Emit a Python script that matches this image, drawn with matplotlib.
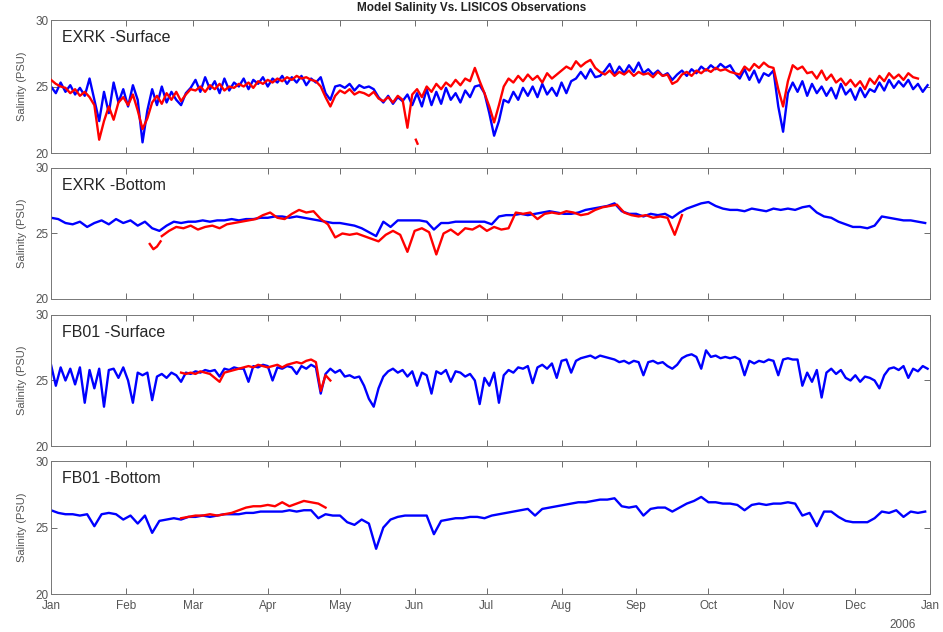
import numpy as np
import matplotlib
matplotlib.use('Agg')
import matplotlib.pyplot as plt

plt.rcParams['font.family'] = ['Liberation Sans', 'DejaVu Sans']

# month ticks (day of year 2006)
month_days = [0, 31, 59, 90, 120, 151, 181, 212, 243, 273, 304, 334, 365]
month_labels = ['Jan', 'Feb', 'Mar', 'Apr', 'May', 'Jun', 'Jul',
                'Aug', 'Sep', 'Oct', 'Nov', 'Dec', 'Jan']

titles = ['EXRK -Surface', 'EXRK -Bottom', 'FB01 -Surface', 'FB01 -Bottom']

# ---- EXRK surface: model (every 2 days) and obs (every 2 days)
b1_days = np.arange(0, 365, 2)
b1 = [25.0, 24.5, 25.3, 24.6, 25.1, 24.4, 24.9, 24.3, 25.6, 24.0,
      22.4, 24.6, 23.0, 25.3, 23.8, 24.8, 23.5, 25.1, 24.0, 20.8,
      23.2, 24.8, 23.6, 25.0, 23.8, 24.6, 24.0, 23.6, 24.5, 24.9,
      25.5, 24.6, 25.7, 24.8, 25.4, 24.5, 25.6, 24.7, 25.3, 25.0,
      25.6, 24.8, 25.5, 25.2, 25.7, 25.0, 25.6, 25.3, 25.8, 25.2,
      25.7, 25.3, 25.8, 25.1, 25.6, 25.3, 25.7, 24.5, 24.0, 25.0,
      25.1, 24.9, 25.2, 24.7, 25.1, 24.9, 25.0, 24.8, 24.2, 23.8,
      24.3, 23.7, 24.2, 23.9, 24.4, 23.6, 24.5, 23.5, 24.8, 23.6,
      24.6, 23.7, 24.9, 24.0, 24.5, 23.8, 24.7, 24.2, 25.0, 25.1,
      24.5, 23.0, 21.3, 22.4, 24.0, 23.8, 24.6, 24.0, 24.9, 24.3,
      25.0, 24.2, 25.2, 24.4, 24.9, 24.3, 25.3, 24.5, 25.4, 25.6,
      26.1, 25.6, 26.3, 25.7, 25.8, 26.2, 26.7, 25.9, 26.5, 26.0,
      26.6, 26.1, 26.8, 26.0, 26.3, 25.9, 26.2, 25.8, 26.0, 25.5,
      25.9, 26.2, 25.8, 26.3, 26.0, 26.5, 26.2, 26.6, 26.3, 26.7,
      26.4, 26.6, 26.0, 25.6, 26.3, 25.5, 26.2, 25.3, 26.0, 25.8,
      26.2, 23.5, 21.6, 24.5, 25.3, 24.6, 25.4, 24.3, 25.2, 24.5,
      25.0, 24.3, 24.9, 24.1, 25.2, 24.4, 24.8, 24.0, 24.9, 24.2,
      24.8, 24.6, 25.3, 24.7, 25.5, 24.9, 25.4, 25.0, 25.5, 24.8,
      25.2, 24.6, 25.1]
r1_days = np.arange(0, 361, 2)
r1 = [25.5, 25.2, 25.0, 24.9, 24.5, 24.8, 24.3, 24.6, 24.2, 23.6,
      21.0, 22.4, 23.5, 22.5, 23.8, 24.2, 23.6, 24.4, 23.2, 21.8,
      22.6, 23.8, 24.3, 23.7, 24.5, 24.0, 24.6, 23.9, 24.4, 24.8,
      24.7, 25.0, 24.6, 25.1, 24.8, 25.2, 24.7, 25.0, 24.9, 25.2,
      25.0, 25.3, 24.9, 25.4, 25.2, 25.5, 25.3, 25.6, 25.4, 25.7,
      25.5, 25.8, 25.6, 25.7, 25.5, 25.4, 25.0, 24.2, 23.5, 24.3,
      24.7, 24.5, 24.8, 24.4, 24.6, 24.5, 24.3, 24.6, 24.1, 23.9,
      24.2, 23.8, 24.3, 24.0, 21.9, 24.4, 24.8, 24.2, 25.0, 24.6,
      25.2, 24.8, 25.3, 25.0, 25.5, 25.1, 25.6, 25.4, 26.4, 25.4,
      24.5, 23.5, 22.3, 23.6, 25.0, 25.6, 25.3, 25.8, 25.4, 25.9,
      25.5, 25.8, 25.3, 26.0, 25.6, 25.9, 26.2, 26.5, 26.3, 26.9,
      26.5, 26.8, 27.0, 26.4, 26.1, 25.9, 26.2, 25.8, 26.1, 25.9,
      26.2, 25.8, 26.1, 25.9, 26.0, 25.7, 26.1, 25.8, 25.9, 25.2,
      25.4, 25.9, 26.1, 25.8, 26.2, 26.0, 26.3, 26.1, 26.4, 26.2,
      26.3, 26.1, 26.0, 25.9, 26.5, 26.2, 26.7, 26.4, 26.8, 26.5,
      26.4, 24.8, 23.5, 25.4, 26.6, 26.3, 26.5, 26.0, 26.1, 25.6,
      26.2, 25.5, 25.9, 25.3, 25.6, 25.1, 25.5, 25.0, 25.4, 24.8,
      25.6, 25.2, 25.8, 25.4, 26.0, 25.6, 25.9, 25.5, 26.0, 25.7,
      25.6]
r1_dot_days = [151.5, 152.2]
r1_dot = [21.0, 20.7]

# ---- EXRK bottom: model every 3 days, obs every 3 days (plus early piece)
b2_days = np.arange(0, 365, 3)
b2 = [26.2, 26.1, 25.8, 25.7, 25.9, 25.5, 25.8, 26.0, 25.7, 26.1,
      25.8, 26.0, 25.6, 25.9, 25.4, 25.2, 25.6, 25.9, 25.8, 25.9,
      25.9, 26.0, 25.9, 26.0, 26.0, 26.1, 26.0, 26.1, 26.1, 26.2,
      26.2, 26.3, 26.3, 26.2, 26.3, 26.2, 26.1, 26.0, 25.9, 25.8,
      25.8, 25.7, 25.6, 25.4, 25.1, 24.8, 25.9, 25.5, 26.0, 26.0,
      26.0, 26.0, 25.9, 25.3, 25.8, 25.8, 25.9, 25.9, 25.9, 25.9,
      25.9, 25.7, 26.3, 26.4, 26.4, 26.5, 26.4, 26.5, 26.6, 26.7,
      26.6, 26.5, 26.5, 26.6, 26.8, 26.9, 27.0, 27.1, 27.3, 26.7,
      26.5, 26.5, 26.3, 26.5, 26.4, 26.5, 26.2, 26.6, 26.9, 27.1,
      27.3, 27.4, 27.1, 26.9, 26.8, 26.8, 26.7, 26.9, 26.8, 26.7,
      26.9, 26.8, 26.9, 26.8, 27.0, 27.1, 26.6, 26.3, 26.2, 25.9,
      25.7, 25.5, 25.5, 25.4, 25.6, 26.3, 26.2, 26.1, 26.0, 26.0,
      25.9, 25.8]
r2_days = np.arange(46, 263, 3)
r2 = [24.8, 25.2, 25.5, 25.4, 25.6, 25.3, 25.5, 25.6, 25.4, 25.7,
      25.8, 25.9, 26.0, 26.1, 26.4, 26.6, 26.2, 26.1, 26.5, 26.8,
      26.6, 26.7, 26.1, 25.7, 24.7, 25.0, 24.9, 25.0, 24.8, 24.6,
      24.4, 24.9, 25.2, 24.9, 23.6, 25.2, 25.4, 25.1, 23.4, 25.0,
      25.3, 24.9, 25.4, 25.3, 25.6, 25.2, 25.5, 25.3, 25.4, 26.6,
      26.5, 26.6, 26.1, 26.5, 26.6, 26.5, 26.7, 26.6, 26.4, 26.5,
      26.8, 27.0, 27.1, 27.2, 26.6, 26.4, 26.3, 26.4, 26.2, 26.3,
      26.2, 24.9, 26.4]
r2_early_days = [41, 42.5, 44, 45.5]
r2_early = [24.2, 23.8, 24.0, 24.4]

# ---- FB01 surface: model every 2 days, obs every 2 days
b3_days = np.arange(0, 365, 2)
b3 = [26.2, 24.6, 26.0, 25.0, 25.9, 24.7, 26.0, 23.3, 25.8, 24.4,
      25.9, 23.0, 25.8, 25.9, 25.2, 26.0, 25.0, 23.3, 25.6, 25.4,
      25.6, 23.5, 25.3, 25.5, 25.2, 25.6, 25.4, 24.9, 25.6, 25.5,
      25.7, 25.6, 25.8, 25.7, 25.8, 25.3, 25.9, 25.8, 26.0, 25.9,
      25.9, 24.9, 26.1, 26.0, 26.2, 26.1, 25.0, 26.0, 25.9, 26.1,
      26.0, 25.5, 26.1, 25.9, 26.2, 26.0, 24.0, 25.5, 25.9, 25.6,
      25.8, 25.3, 25.4, 25.2, 25.3, 24.6, 23.6, 23.0, 24.4, 25.3,
      25.7, 25.9, 25.6, 25.8, 25.3, 25.7, 24.6, 25.6, 25.4, 24.0,
      25.7, 25.5, 25.8, 24.9, 25.7, 25.6, 25.3, 25.5, 25.0, 23.2,
      25.2, 24.6, 25.6, 23.3, 25.4, 25.8, 25.6, 26.0, 25.9, 26.1,
      24.8, 26.0, 26.2, 25.9, 26.3, 25.2, 26.5, 26.6, 25.6, 26.5,
      26.7, 26.8, 26.9, 26.7, 26.9, 26.8, 26.7, 26.6, 26.4, 26.5,
      26.3, 26.5, 26.4, 25.4, 26.4, 26.5, 26.3, 26.4, 26.1, 25.9,
      26.2, 26.7, 26.9, 27.0, 26.8, 25.9, 27.3, 26.8, 26.9, 26.7,
      26.8, 26.7, 26.8, 26.6, 25.4, 26.5, 26.3, 26.5, 26.4, 26.6,
      26.5, 25.4, 26.6, 26.7, 26.6, 26.6, 24.6, 25.6, 24.9, 25.8,
      23.7, 25.6, 25.9, 25.5, 25.8, 25.2, 25.0, 25.4, 24.9, 25.3,
      25.2, 25.0, 24.4, 25.4, 25.9, 26.0, 25.8, 26.1, 25.2, 25.9,
      25.7, 26.1, 25.9]
r3_days = np.arange(54, 117, 2)
r3 = [25.6, 25.5, 25.6, 25.5, 25.7, 25.6, 25.5, 25.2, 24.9, 25.6,
      25.7, 25.8, 25.9, 26.0, 26.1, 26.0, 26.2, 26.1, 26.0, 26.1,
      26.2, 26.0, 26.2, 26.3, 26.4, 26.3, 26.5, 26.6, 26.4, 24.2,
      25.4, 25.0]

# ---- FB01 bottom: model every 3 days, obs every 3 days
b4_days = np.arange(0, 365, 3)
b4 = [26.3, 26.1, 26.0, 26.0, 25.9, 26.0, 25.1, 26.0, 26.1, 26.0,
      25.6, 25.9, 25.3, 25.9, 24.6, 25.5, 25.6, 25.7, 25.6, 25.8,
      25.8, 25.9, 25.8, 25.9, 26.0, 26.0, 26.0, 26.1, 26.1, 26.2,
      26.2, 26.2, 26.2, 26.3, 26.2, 26.3, 26.3, 25.7, 26.0, 25.9,
      25.9, 25.4, 25.2, 25.6, 25.3, 23.4, 25.0, 25.6, 25.8, 25.9,
      25.9, 25.9, 25.9, 24.5, 25.5, 25.6, 25.7, 25.7, 25.8, 25.8,
      25.7, 25.9, 26.0, 26.1, 26.2, 26.3, 26.4, 25.9, 26.4, 26.5,
      26.6, 26.7, 26.8, 26.9, 26.9, 27.0, 27.1, 27.1, 27.2, 26.6,
      26.5, 26.6, 25.9, 26.4, 26.5, 26.5, 26.2, 26.5, 26.8, 27.0,
      27.3, 26.9, 26.9, 26.8, 26.8, 26.7, 26.3, 26.7, 26.8, 26.7,
      26.8, 26.8, 26.9, 26.8, 25.9, 26.1, 25.1, 26.2, 26.2, 25.8,
      25.5, 25.4, 25.4, 25.4, 25.7, 26.2, 26.1, 26.3, 25.8, 26.2,
      26.1, 26.2]
r4_days = np.arange(54, 115, 3)
r4 = [25.7, 25.8, 25.9, 25.9, 26.0, 25.9, 26.0, 26.1, 26.3, 26.5,
      26.6, 26.6, 26.7, 26.6, 26.9, 26.6, 26.8, 27.0, 26.9, 26.8,
      26.5]

model = [(b1_days, b1), (b2_days, b2), (b3_days, b3), (b4_days, b4)]
obs = [[(r1_days, r1), (r1_dot_days, r1_dot)],
       [(r2_early_days, r2_early), (r2_days, r2)],
       [(r3_days, r3)],
       [(r4_days, r4)]]

fig = plt.figure(figsize=(9.43, 6.32), dpi=100)
bottoms = [0.7579, 0.5269, 0.2943, 0.0601]
heights = [0.2104, 0.2073, 0.2073, 0.2104]
axes = []
for i in range(4):
    ax = fig.add_axes([0.0541, bottoms[i], 0.9321, heights[i]])
    axes.append(ax)
    ax.plot(model[i][0], model[i][1], color='#0000ff', lw=1.7, zorder=2)
    for d, v in obs[i]:
        ax.plot(d, v, color='#ff0000', lw=1.7, zorder=3)
    ax.set_xlim(0, 365)
    ax.set_ylim(20, 30)
    ax.set_yticks([20, 25, 30])
    ax.set_xticks(month_days)
    if i == 3:
        ax.set_xticklabels(month_labels)
    else:
        ax.set_xticklabels([])
    ax.tick_params(direction='in', length=4, width=0.6, colors='#555555',
                   labelsize=8.5, top=True, right=True, pad=4)
    ax.tick_params(axis='y', pad=2)
    for sp in ax.spines.values():
        sp.set_color('#777777')
        sp.set_linewidth(0.7)
    ax.set_ylabel('Salinity (PSU)', fontsize=8, color='#555555', labelpad=6)
    ax.text(0.012, 0.87, titles[i], transform=ax.transAxes, fontsize=11.5,
            color='#262626', va='center', ha='left')

axes[3].text(0.969, -0.235, '2006', transform=axes[3].transAxes, fontsize=8.5,
             color='#555555', ha='center', va='center')
fig.text(0.5, 0.987, 'Model Salinity Vs. LISICOS Observations', fontsize=8.5,
         fontweight='bold', ha='center', va='center', color='#222222')

fig.savefig('out.png', dpi=100)
